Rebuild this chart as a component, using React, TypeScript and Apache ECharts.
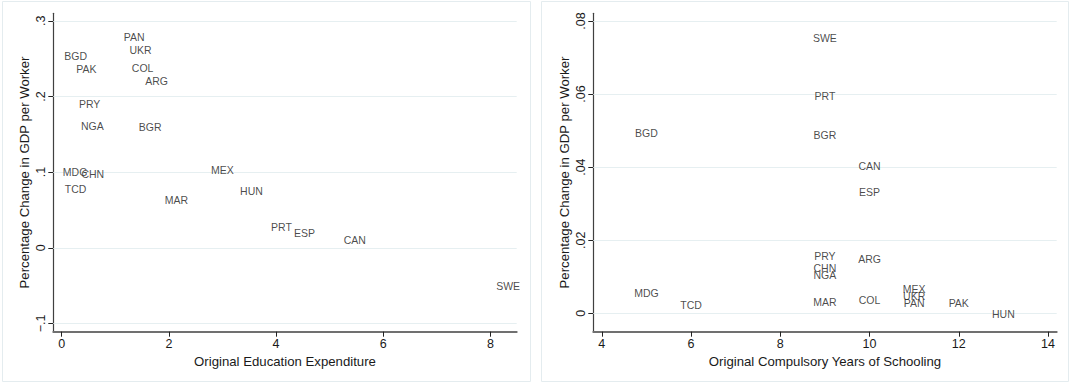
import React, { useEffect, useRef } from "react";
import * as echarts from "echarts";

const countries = ["BGD","PAK","PAN","UKR","COL","ARG","PRY","NGA","BGR","MDG","CHN","TCD","MEX","HUN","MAR","PRT","ESP","CAN","SWE"];
const eduExpenditure = [0.26,0.46,1.35,1.47,1.51,1.77,0.52,0.57,1.65,0.25,0.58,0.26,3.0,3.54,2.14,4.10,4.53,5.47,8.33];
const gdpChangeEdu = [0.253,0.237,0.279,0.261,0.238,0.221,0.190,0.161,0.160,0.100,0.098,0.078,0.103,0.075,0.063,0.028,0.019,0.010,-0.050];
const compulsoryYears = [5,12,11,11,10,10,9,9,9,5,9,6,11,13,9,9,10,10,9];
const gdpChangeYears = [0.0493,0.0029,0.0029,0.0047,0.0035,0.0149,0.0158,0.0105,0.0487,0.0056,0.0125,0.0023,0.0067,-0.0003,0.0032,0.0596,0.0333,0.0403,0.0754];

const leftXTicks = [0, 2, 4, 6, 8];
const leftXTickLabels = ["0", "2", "4", "6", "8"];
const leftYTicks = [-0.1, 0, 0.1, 0.2, 0.3];
const leftYTickLabels = ["\u2212.1", "0", ".1", ".2", ".3"];
const rightXTicks = [4, 6, 8, 10, 12, 14];
const rightXTickLabels = ["4", "6", "8", "10", "12", "14"];
const rightYTicks = [0, 0.02, 0.04, 0.06, 0.08];
const rightYTickLabels = ["0", ".02", ".04", ".06", ".08"];

const yTitle = "Percentage Change in GDP per Worker";
const leftXTitle = "Original Education Expenditure";
const rightXTitle = "Original Compulsory Years of Schooling";

const FONT = "Liberation Sans, Arial, Helvetica, sans-serif";

function fmt(vals: number[], labels: string[]) {
  return (v: number) => {
    for (let i = 0; i < vals.length; i++) if (Math.abs(v - vals[i]) < 1e-9) return labels[i];
    return "";
  };
}

function xAxisCfg(gridIndex: number, min: number, max: number, ticks: number[], labels: string[], name: string) {
  return {
    type: "value", gridIndex, min, max, name, nameLocation: "middle", nameGap: 23, nameMoveOverlap: false,
    nameTextStyle: { fontFamily: FONT, fontSize: 13.2, color: "#1a1a1a" },
    axisLine: { show: true, onZero: false, lineStyle: { color: "#707070", width: 2 } },
    axisTick: { show: true, customValues: ticks, length: 5, lineStyle: { color: "#222", width: 1 } },
    axisLabel: { customValues: ticks, formatter: fmt(ticks, labels), fontFamily: FONT, fontSize: 12.5, color: "#1a1a1a", margin: 6 },
    splitLine: { show: false },
  };
}

function yAxisCfg(gridIndex: number, min: number, max: number, ticks: number[], labels: string[]) {
  return {
    type: "value", gridIndex, min, max, name: yTitle, nameLocation: "middle", nameGap: 22, nameRotate: 90, nameMoveOverlap: false,
    nameTextStyle: { fontFamily: FONT, fontSize: 13.2, color: "#1a1a1a" },
    axisLine: { show: true, onZero: false, lineStyle: { color: "#404040", width: 1.2 } },
    axisTick: { show: true, customValues: ticks, length: 5, lineStyle: { color: "#222", width: 1 } },
    axisLabel: { customValues: ticks, rotate: 90, formatter: fmt(ticks, labels), fontFamily: FONT, fontSize: 12.5, color: "#1a1a1a", margin: 6 },
    splitLine: { show: false },
  };
}

function gridSeries(idx: number, ticks: number[]) {
  return {
    type: "scatter", xAxisIndex: idx, yAxisIndex: idx, data: [], z: 1, silent: true,
    markLine: {
      silent: true, z: 1, symbol: ["none", "none"], label: { show: false },
      lineStyle: { color: "#e6eff1", type: "solid", width: 1 },
      data: ticks.map((v) => ({ yAxis: v })),
    },
  };
}

function labelSeries(idx: number, xs: number[], ys: number[]) {
  return {
    type: "scatter", xAxisIndex: idx, yAxisIndex: idx, z: 10, symbolSize: 1,
    itemStyle: { color: "rgba(0,0,0,0)" },
    data: countries.map((c, i) => ({ name: c, value: [xs[i], ys[i]] })),
    label: { show: true, position: "inside", formatter: "{b}", fontFamily: FONT, fontSize: 10.5, color: "#1a1a1a" },
  };
}

export default function App() {
  const ref = useRef<HTMLDivElement>(null);
  useEffect(() => {
    if (!ref.current) return;
    const chart = echarts.init(ref.current, null, { renderer: "svg" });
    chart.setOption({
      animation: false,
      backgroundColor: "#ffffff",
      graphic: [
        { type: "rect", shape: { x: 2.5, y: 1.5, width: 528, height: 380 }, style: { fill: "none", stroke: "#e4ecef", lineWidth: 1 }, silent: true },
        { type: "rect", shape: { x: 541.5, y: 1.5, width: 527, height: 380 }, style: { fill: "none", stroke: "#e4ecef", lineWidth: 1 }, silent: true },
      ],
      grid: [
        { left: 53.3, top: 13.3, width: 463.4, height: 318.4 },
        { left: 593.3, top: 13.3, width: 463.4, height: 318.4 },
      ],
      xAxis: [
        xAxisCfg(0, -0.157, 8.49, leftXTicks, leftXTickLabels, leftXTitle),
        xAxisCfg(1, 3.81, 14.195, rightXTicks, rightXTickLabels, rightXTitle),
      ],
      yAxis: [
        yAxisCfg(0, -0.111, 0.310, leftYTicks, leftYTickLabels),
        yAxisCfg(1, -0.00504, 0.0821, rightYTicks, rightYTickLabels),
      ],
      series: [
        gridSeries(0, leftYTicks),
        gridSeries(1, rightYTicks),
        labelSeries(0, eduExpenditure, gdpChangeEdu),
        labelSeries(1, compulsoryYears, gdpChangeYears),
      ],
    });
    return () => chart.dispose();
  }, []);
  return <div ref={ref} style={{ position: "fixed", left: 0, top: 0, width: 1070, height: 383 }} />;
}
